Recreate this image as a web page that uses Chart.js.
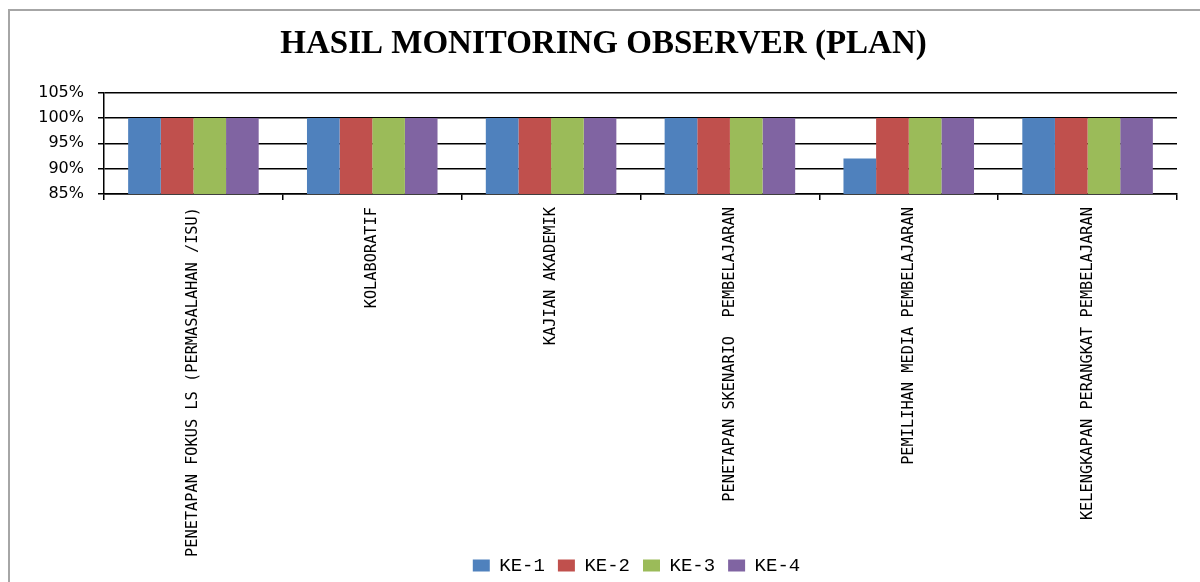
<!DOCTYPE html>
<html>
<head>
<meta charset="utf-8">
<script src="https://cdn.jsdelivr.net/npm/chart.js@4.4.1/dist/chart.umd.min.js"></script>
<style>
    html, body { margin: 0; padding: 0; background: #fff; overflow: hidden; }
    #frame {
        position: absolute; left: 8px; top: 9px;
        width: 1200px; height: 600px;
        border-left: 2px solid #a6a6a6; border-top: 2px solid #a6a6a6;
    }
    #box { position: absolute; left: 0; top: 0; width: 1190px; height: 571px; }
</style>
</head>
<body>
<div id="frame"><div id="box"><canvas id="planChart"></canvas></div></div>
<script>
// Data
const categories = [
    "PENETAPAN FOKUS LS (PERMASALAHAN /ISU)",
    "KOLABORATIF",
    "KAJIAN AKADEMIK",
    "PENETAPAN SKENARIO  PEMBELAJARAN",
    "PEMILIHAN MEDIA PEMBELAJARAN",
    "KELENGKAPAN PERANGKAT PEMBELAJARAN"
];
const seriesNames = ["KE-1", "KE-2", "KE-3", "KE-4"];
const ke1 = [100, 100, 100, 100, 92, 100];
const ke2 = [100, 100, 100, 100, 100, 100];
const ke3 = [100, 100, 100, 100, 100, 100];
const ke4 = [100, 100, 100, 100, 100, 100];
const yTicks = [85, 90, 95, 100, 105];
const seriesColors = ["#4f81bd", "#c0504d", "#9bbb59", "#8064a2"];

document.addEventListener("DOMContentLoaded", function () {
    const values = [ke1, ke2, ke3, ke4];

    // nudge title and legend like the original layout,
    // and let the long category labels run down past the axis box
    const boxShift = {
        id: "boxShift",
        afterLayout(chart) {
            chart.titleBlock.left += 10;
            chart.titleBlock.right += 10;
            chart.legend.left += 43;
            chart.legend.right += 43;
            chart.legend.top += 3;
            chart.legend.bottom += 3;
            chart.scales.x.bottom += 30;
        }
    };

    new Chart(document.getElementById("planChart").getContext("2d"), {
        type: "bar",
        data: {
            labels: categories,
            datasets: seriesNames.map((name, i) => ({
                label: name,
                data: values[i],
                backgroundColor: seriesColors[i],
                borderWidth: 0,
                barPercentage: 1.0,
                categoryPercentage: 0.73
            }))
        },
        options: {
            responsive: true,
            maintainAspectRatio: false,
            animation: false,
            layout: { padding: { left: 0, right: 23, top: 0, bottom: 0 } },
            plugins: {
                title: {
                    display: true,
                    text: "HASIL MONITORING OBSERVER (PLAN)",
                    color: "#000",
                    font: { family: "'Liberation Serif', serif", size: 33, weight: "bold" },
                    padding: { top: 14, bottom: 28 }
                },
                legend: {
                    display: true,
                    position: "bottom",
                    labels: {
                        color: "#000",
                        boxWidth: 17,
                        boxHeight: 12,
                        padding: 13,
                        font: { family: "'Liberation Mono', monospace", size: 19 }
                    }
                },
                tooltip: { enabled: false }
            },
            scales: {
                x: {
                    offset: true,
                    grid: { display: true, drawOnChartArea: false, drawTicks: true, tickLength: 6, color: "#000", lineWidth: 1.5 },
                    border: { display: true, color: "#000", width: 1.5 },
                    ticks: {
                        autoSkip: false,
                        minRotation: 90,
                        maxRotation: 90,
                        padding: 7,
                        color: "#000",
                        font: { family: "'DejaVu Sans Mono', monospace", size: 15.3 }
                    },
                    afterFit: function (scale) { scale.height = 346; }
                },
                y: {
                    min: 85,
                    max: 105,
                    afterBuildTicks: function (scale) {
                        scale.ticks = yTicks.map(v => ({ value: v }));
                    },
                    grid: { color: "#000", lineWidth: 1.5, tickLength: 6 },
                    border: { display: true, color: "#000", width: 1.5 },
                    ticks: {
                        padding: 14,
                        color: "#000",
                        font: { family: "'DejaVu Sans', sans-serif", size: 16 },
                        callback: v => v + "%"
                    },
                    afterFit: function (scale) { scale.width = 94; }
                }
            }
        },
        plugins: [boxShift]
    });
});
</script>
</body>
</html>
